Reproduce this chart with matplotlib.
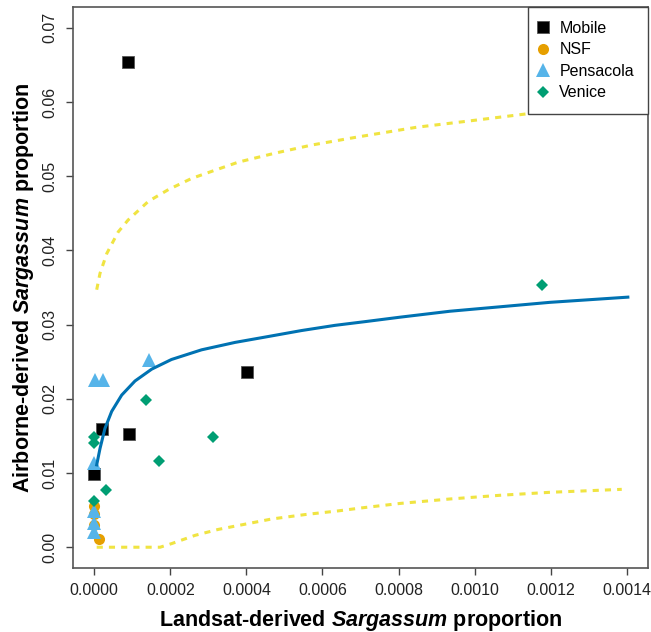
import matplotlib
matplotlib.use("Agg")
import matplotlib.pyplot as plt

plt.rcParams["font.family"] = ["Liberation Sans", "DejaVu Sans"]
plt.rcParams["mathtext.fontset"] = "custom"
plt.rcParams["mathtext.bfit"] = "Liberation Sans:italic:bold"

# ── points ──────────────────────────────────────────────────────────────────
mobile_x = [0.0, 0.0000202, 0.0000912, 0.000401, 0.0000886]
mobile_y = [0.0099, 0.0159, 0.01525, 0.0236, 0.0654]

nsf_x = [0.0, 0.0, 0.0, 0.000013]
nsf_y = [0.0055, 0.0045, 0.0030, 0.0011]

pens_x = [0.000002, 0.0000237, 0.000144, 0.0, 0.0, 0.0, 0.0]
pens_y = [0.0226, 0.0226, 0.0252, 0.0113, 0.0049, 0.0032, 0.0020]

venice_x = [0.000135, 0.0, 0.0, 0.000311, 0.00017, 0.00003, 0.0, 0.001176]
venice_y = [0.0199, 0.0148, 0.0140, 0.0149, 0.0116, 0.0077, 0.0062, 0.0354]

# fitted curve and bounds
fit_x = [0.0000063, 0.000015, 0.000028, 0.0000457, 0.000072, 0.000107, 0.000151,
         0.000203, 0.000282, 0.00037, 0.000458, 0.000545, 0.000633, 0.000712,
         0.000804, 0.000935, 0.001067, 0.001198, 0.001403]
fit_y = [0.0111, 0.0133, 0.0160, 0.0183, 0.0205, 0.0224, 0.0240,
         0.0253, 0.0266, 0.0276, 0.0284, 0.0292, 0.0299, 0.0304,
         0.0310, 0.0318, 0.0324, 0.0330, 0.0337]

upper_x = [0.0000063, 0.000015, 0.000033, 0.000063, 0.000089, 0.000142, 0.000195,
           0.000256, 0.000317, 0.000379, 0.000475, 0.000572, 0.000694, 0.000848,
           0.000979, 0.001137, 0.0014]
upper_y = [0.0347, 0.0369, 0.0396, 0.0425, 0.0441, 0.0466, 0.0482,
           0.0497, 0.0508, 0.0519, 0.0531, 0.0542, 0.0553, 0.0566,
           0.0574, 0.0584, 0.0597]

lower_x = [0.0000063, 0.000072, 0.000173, 0.000204, 0.000265, 0.000326, 0.000396,
           0.000466, 0.000554, 0.000642, 0.000703, 0.000804, 0.000935, 0.001067,
           0.001198, 0.001387]
lower_y = [0.0, 0.0, 0.0, 0.0005, 0.0016, 0.0024, 0.0031,
           0.0038, 0.0044, 0.0049, 0.0053, 0.0059, 0.0065, 0.0070,
           0.0074, 0.0078]

x_ticks = [0.0, 0.0002, 0.0004, 0.0006, 0.0008, 0.0010, 0.0012, 0.0014]
x_tick_labels = ["0.0000", "0.0002", "0.0004", "0.0006", "0.0008", "0.0010", "0.0012", "0.0014"]
y_ticks = [0.0, 0.01, 0.02, 0.03, 0.04, 0.05, 0.06, 0.07]
y_tick_labels = ["0.00", "0.01", "0.02", "0.03", "0.04", "0.05", "0.06", "0.07"]

W, H = 651, 632
fig = plt.figure(figsize=(W / 100, H / 100), dpi=100)
ax = fig.add_axes([73 / W, (H - 568) / H, 575 / W, 561 / H])

ax.plot(mobile_x, mobile_y, "s", color="black", ms=8.5, mec="#555555", mew=0.6,
        ls="none", label="Mobile")
ax.plot(nsf_x, nsf_y, "o", color="#E69F00", ms=8, mew=0, ls="none", label="NSF")
ax.plot(pens_x, pens_y, "^", color="#56B4E9", ms=10, mew=0, ls="none", label="Pensacola")
ax.plot(venice_x, venice_y, "D", color="#009E73", ms=6.5, mew=0, ls="none", label="Venice")

ax.plot(fit_x, fit_y, color="#0072B2", lw=2.2, solid_joinstyle="round")
ax.plot(upper_x, upper_y, color="#F0E442", lw=2.2, ls=(0, (2, 2)))
ax.plot(lower_x, lower_y, color="#F0E442", lw=2.2, ls=(0, (2, 2)))

ax.set_xlim(-0.000056, 0.001456)
ax.set_ylim(-0.0028, 0.0728)
ax.set_xticks(x_ticks)
ax.set_xticklabels(x_tick_labels)
ax.set_yticks(y_ticks)
ax.set_yticklabels(y_tick_labels, rotation=90, va="center")
ax.tick_params(direction="out", length=5, width=1, color="#444444",
               labelsize=11.5, labelcolor="#222222", pad=6)
for spine in ax.spines.values():
    spine.set_edgecolor("#555555")
    spine.set_linewidth(1.2)

ax.set_xlabel(r"Landsat-derived $\mathbfit{Sargassum}$ proportion",
              fontsize=15.5, fontweight="bold", labelpad=7)
ax.set_ylabel(r"Airborne-derived $\mathbfit{Sargassum}$ proportion",
              fontsize=15.5, fontweight="bold", labelpad=5)

# zero-length handles so the markers sit close to the frame, R-style
leg = ax.legend(loc="upper right", borderaxespad=0, fontsize=11.5, fancybox=False,
                edgecolor="#444444", framealpha=1, handletextpad=1.05,
                handlelength=0, labelspacing=0.4, borderpad=0.88)
leg.get_frame().set_linewidth(1.0)

fig.savefig("out.png", dpi=100)
